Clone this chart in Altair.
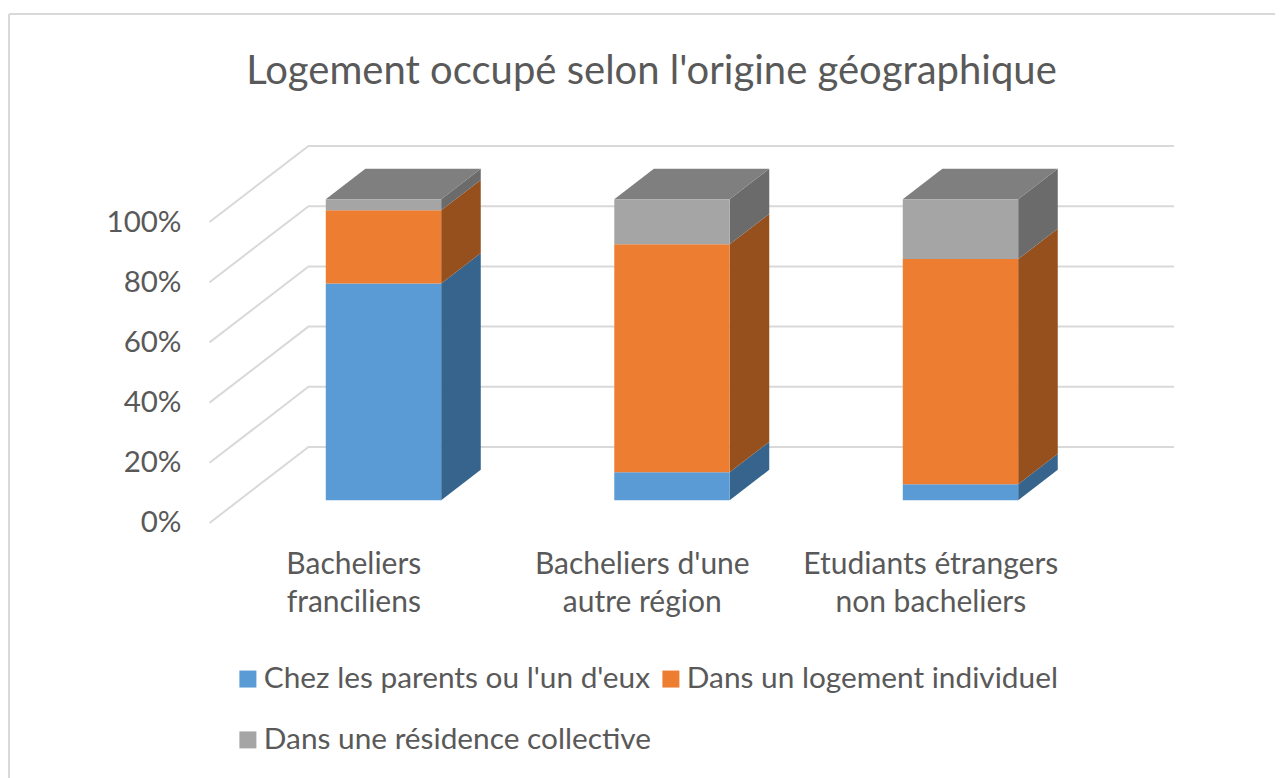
import altair as alt
import pandas as pd

title = "Logement occupé selon l'origine géographique"
categories = ["Bacheliers\nfranciliens", "Bacheliers d'une\nautre région", "Etudiants étrangers\nnon bacheliers"]
series = ["Chez les parents ou l'un d'eux", "Dans un logement individuel", "Dans une résidence collective"]
parents = [72.0, 9.3, 5.3]
individuel = [24.3, 75.7, 74.8]
collective = [3.7, 15.0, 19.9]
ticks = [0, 20, 40, 60, 80, 100]

front_colors = ["#5b9bd5", "#ed7d31", "#a5a5a5"]
side_colors = ["#37648c", "#96501e", "#6b6b6b"]
top_color = "#7f7f7f"
grid_color = "#d9d9d9"
text_color = "#595959"
FONT = "Lato"

# oblique projection: depth 0 = front of the floor, 1 = back wall
DX, DY = 0.343, 25.25
BAR_D0, BAR_D1 = 0.3, 0.7
HALF = 0.2


def px(u, d):
    return u + DX * d


def py(v, d):
    return v + DY * d


rows_front, rows_side, rows_top = [], [], []
for i in range(len(categories)):
    low = 0.0
    for name, vals in zip(series, [parents, individuel, collective]):
        high = low + vals[i]
        rows_front.append(dict(serie=name, x=px(i - HALF, BAR_D0), x2=px(i + HALF, BAR_D0),
                               y=py(low, BAR_D0), y2=py(high, BAR_D0)))
        for d in (BAR_D0, BAR_D1):
            rows_side.append(dict(key=f"{i}{name}", serie=name, x=px(i + HALF, d),
                                  y=py(low, d), y2=py(high, d)))
        low = high
    for d in (BAR_D0, BAR_D1):
        rows_top.append(dict(key=i, x=px(i - HALF, d), x2=px(i + HALF, d), y=py(100, d)))

rows_grid = []
for t in ticks:
    rows_grid += [
        dict(t=t, n=0, x=px(-0.5, 0), y=py(t, 0)),
        dict(t=t, n=1, x=px(-0.5, 1), y=py(t, 1)),
        dict(t=t, n=2, x=px(2.5, 1), y=py(t, 1)),
    ]

xs = alt.Scale(domain=[-1.1986, 3.1931], nice=False, zero=False)
ys = alt.Scale(domain=[-84.72, 171.1], nice=False, zero=False)
yaxis = alt.Axis(values=ticks, offset=-173, domain=False, ticks=False, grid=False, labelPadding=0,
                 labelExpr="datum.value + '%'", labelFont=FONT, labelFontSize=29.5, labelColor=text_color,
                 title=None)
X = lambda f="x": alt.X(f"{f}:Q", scale=xs, axis=None)
Y = lambda f="y": alt.Y(f"{f}:Q", scale=ys, axis=yaxis, stack=None)

frame_left = alt.Chart(pd.DataFrame({"a": [0]})).mark_rule(color=grid_color, strokeWidth=2).encode(
    x=alt.value(1), y=alt.value(6), y2=alt.value(770))
frame_top = alt.Chart(pd.DataFrame({"a": [0]})).mark_rule(color=grid_color, strokeWidth=2).encode(
    x=alt.value(1), x2=alt.value(1267), y=alt.value(6))

grid = alt.Chart(pd.DataFrame(rows_grid)).mark_line(color=grid_color, strokeWidth=2).encode(
    x=X(), y=Y(), detail="t:N", order="n:Q")

side = alt.Chart(pd.DataFrame(rows_side)).mark_area(opacity=1).encode(
    x=X(), y=Y(), y2="y2:Q", detail="key:N",
    fill=alt.Fill("serie:N", scale=alt.Scale(domain=series, range=side_colors), legend=None))

top = alt.Chart(pd.DataFrame(rows_top)).mark_area(orient="horizontal", color=top_color, opacity=1).encode(
    y=Y(), x=alt.X("x:Q", scale=xs, axis=None, stack=None), x2="x2:Q", detail="key:N")

front = alt.Chart(pd.DataFrame(rows_front)).mark_rect().encode(
    x=X(), x2="x2:Q", y=Y(), y2="y2:Q",
    color=alt.Color("serie:N", scale=alt.Scale(domain=series, range=front_colors), legend=alt.Legend(
        title=None, orient="none", legendX=225, legendY=656, columns=2, direction="horizontal",
        columnPadding=5, rowPadding=30,
        symbolType="square", symbolSize=289, symbolStrokeWidth=0, symbolOpacity=1, labelOffset=1,
        labelFont=FONT, labelFontSize=29.8, labelColor=text_color, labelLimit=600)))

labels = alt.Chart(pd.DataFrame({"cat": categories, "u": list(range(len(categories))), "v": [-14.0] * 3})).mark_text(
    font=FONT, fontSize=30, color=text_color, lineBreak="\n", lineHeight=38, align="center", baseline="middle"
).encode(x=alt.X("u:Q", scale=xs, axis=None), y=Y("v"), text="cat:N")

chart = alt.layer(frame_left, frame_top, grid, side, top, front, labels).resolve_scale(
    color="independent", fill="independent"
).properties(
    width=1267, height=770, padding=0, autosize=alt.AutoSizeParams(type="none"),
    title=alt.TitleParams(text=title, anchor="middle", offset=-84, dx=10, font=FONT, fontSize=40,
                          fontWeight="normal", color=text_color),
).configure_view(stroke=None)

chart.save("out.html", embed_options={"renderer": "svg", "actions": False})
